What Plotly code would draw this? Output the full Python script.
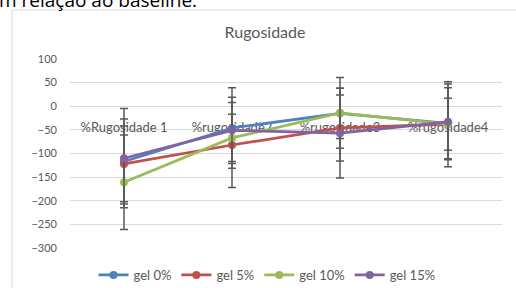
import plotly.graph_objects as go

categories = ["%Rugosidade 1", "%rugosidade2", "%rugosidade3", "%rugosidade4"]
series_names = ["gel 0%", "gel 5%", "gel 10%", "gel 15%"]
gel0 = [-117, -46, -15, -36]
gel5 = [-122, -82, -46, -38]
gel10 = [-161, -67, -14, -38]
gel15 = [-110, -51, -57, -33]
err0 = [90, 85, 53, 75]
err5 = [80, 90, 70, 55]
err10 = [100, 50, 75, 90]
err15 = [105, 70, 95, 80]
colors = ["#4F81BD", "#C0504D", "#9BBB59", "#8064A2"]
y_ticks = [100, 50, 0, -50, -100, -150, -200, -250, -300]

W, H = 516, 288
L, R, T, B = 70, 14, 59, 40
pw, ph = W - L - R, H - T - B

def px(x):
    return (x - L) / pw

def py(y):
    return (H - B - y) / ph

fig = go.Figure()
for name, vals, errs, c in zip(series_names, [gel0, gel5, gel10, gel15],
                               [err0, err5, err10, err15], colors):
    fig.add_trace(go.Scatter(
        x=categories, y=vals, name=name, mode="lines+markers",
        line=dict(color=c, width=2.75),
        marker=dict(color=c, size=8),
        error_y=dict(type="data", array=errs, visible=True,
                     color="#595959", thickness=1.5, width=4),
    ))

font = "Lato, 'Open Sans', sans-serif"
fig.update_layout(
    width=W, height=H,
    margin=dict(l=L, r=R, t=T, b=B, autoexpand=False),
    paper_bgcolor="white", plot_bgcolor="white",
    font=dict(family=font, color="#595959", size=10),
    title=dict(text="Rugosidade", x=(265) / W, xanchor="center",
               y=1 - 32 / H, yanchor="middle",
               font=dict(size=16, color="#595959", family=font)),
    showlegend=True,
    legend=dict(orientation="h", x=px(267), xanchor="center",
                y=py(275), yanchor="middle",
                font=dict(size=13, color="#595959"),
                bgcolor="rgba(0,0,0,0)"),
    xaxis=dict(
        type="category", range=[-0.5, 3.5],
        anchor="free", position=0.75, automargin=False,
        showgrid=False, showline=False, zeroline=False,
        ticks="", tickfont=dict(size=13, color="#595959"),
        ticklabelstandoff=12, layer="below traces",
    ),
    yaxis=dict(
        range=[-300, 100], tickvals=y_ticks, automargin=False,
        showgrid=True, gridcolor="#D9D9D9", gridwidth=1,
        zeroline=False, showline=False, ticks="",
        ticklabelstandoff=12, tickfont=dict(size=11, color="#595959"),
    ),
    shapes=[dict(type="rect", xref="paper", yref="paper",
                 x0=px(12), x1=px(530), y0=py(300), y1=py(10),
                 line=dict(color="#D9D9D9", width=1), layer="below")],
    annotations=[dict(text="m relação ao baseline.", xref="paper", yref="paper",
                      x=px(-3), y=py(0), xanchor="left", yanchor="middle",
                      showarrow=False,
                      font=dict(size=19, color="black", family="'Open Sans', sans-serif"))],
)

fig.write_html("out.html", config={"displayModeBar": False},
               post_script="document.body.style.margin='0';document.body.style.overflow='hidden';")
